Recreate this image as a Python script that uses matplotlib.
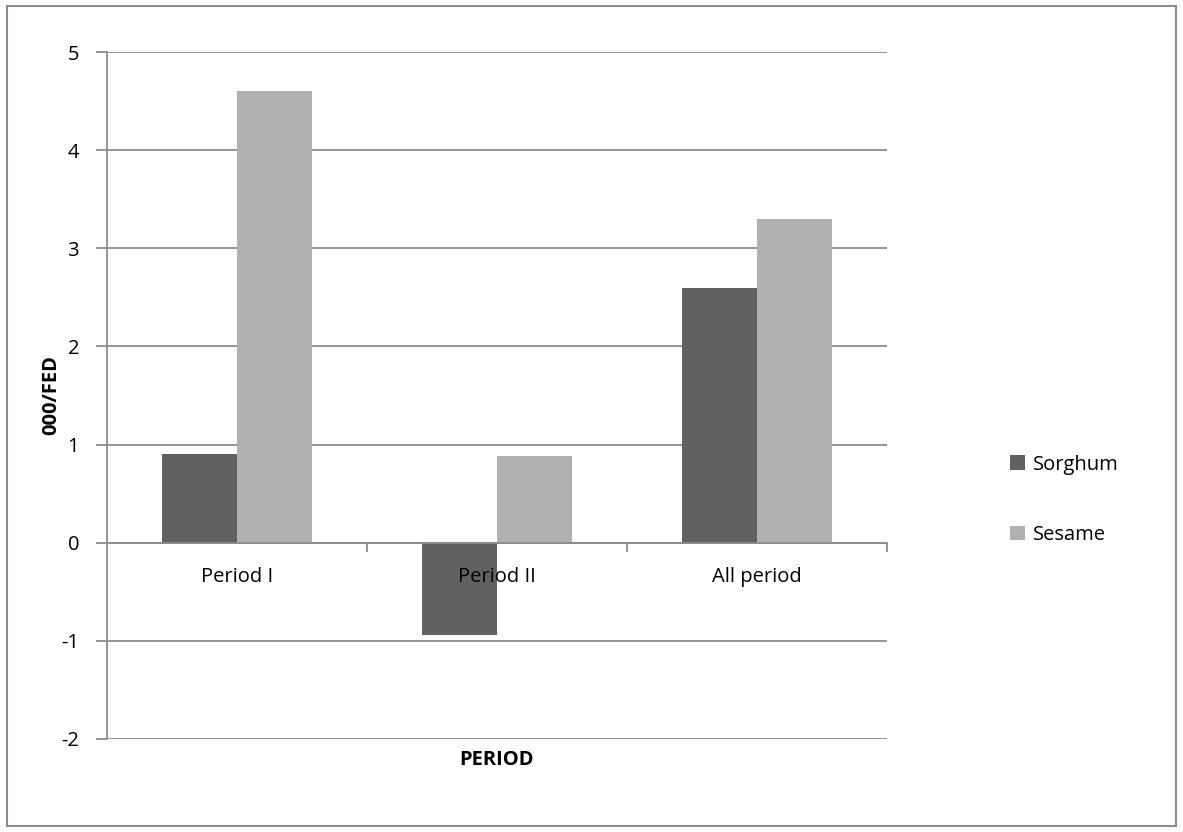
import numpy as np
import matplotlib
matplotlib.use("Agg")
import matplotlib.pyplot as plt
from matplotlib.patches import Rectangle

categories = ["Period I", "Period II", "All period"]
sorghum = [0.9, -0.94, 2.6]
sesame = [4.6, 0.88, 3.3]
series_names = ["Sorghum", "Sesame"]
colors = ["#616161", "#b1b1b1"]

plt.rcParams["font.family"] = ["Open Sans", "DejaVu Sans"]
plt.rcParams["axes.unicode_minus"] = False

fig = plt.figure(figsize=(11.83, 8.32), dpi=100)
fig.patches.append(Rectangle((0.006, 0.007), 0.988, 0.986, transform=fig.transFigure,
                             fill=False, edgecolor="#8c8c8c", lw=1.5))
ax = fig.add_axes([0.0904, 0.1118, 0.6594, 0.8257])

x = np.arange(len(categories))
w = 0.288
ax.bar(x - w / 2, sorghum, w, color=colors[0], label=series_names[0], zorder=3)
ax.bar(x + w / 2, sesame, w, color=colors[1], label=series_names[1], zorder=3)

ax.set_xlim(-0.5, 2.5)
ax.set_ylim(-2, 5)
ax.set_yticks(range(-2, 6))
ax.yaxis.grid(True, color="#8c8c8c", lw=1.3, zorder=1)
ax.tick_params(axis="y", length=8, color="#8c8c8c", width=1.3, labelsize=14.5, pad=12)
for s in ["top", "right", "bottom"]:
    ax.spines[s].set_visible(False)
ax.spines["left"].set_color("#8c8c8c")
ax.spines["left"].set_linewidth(1.3)

# category axis at zero
ax.axhline(0, color="#8c8c8c", lw=1.3, zorder=4)
ax.set_xticks([])
for b in [0.5, 1.5, 2.5]:
    ax.plot([b, b], [0, -0.08], color="#8c8c8c", lw=1.3, zorder=4, clip_on=False)
for xi, c in zip(x, categories):
    ax.text(xi, -0.25, c, ha="center", va="top", fontsize=14.5, zorder=5)

ax.set_ylabel("000/FED", fontsize=14.5, fontweight="bold", labelpad=0)
ax.set_xlabel("PERIOD", fontsize=14.5, fontweight="bold", labelpad=8)

ax.legend(loc="center left", bbox_to_anchor=(1.134, 0.348), frameon=False, fontsize=14.5,
          handlelength=0.75, handleheight=0.75, handletextpad=0.4, labelspacing=2.5)

fig.savefig("out.png", dpi=100)
